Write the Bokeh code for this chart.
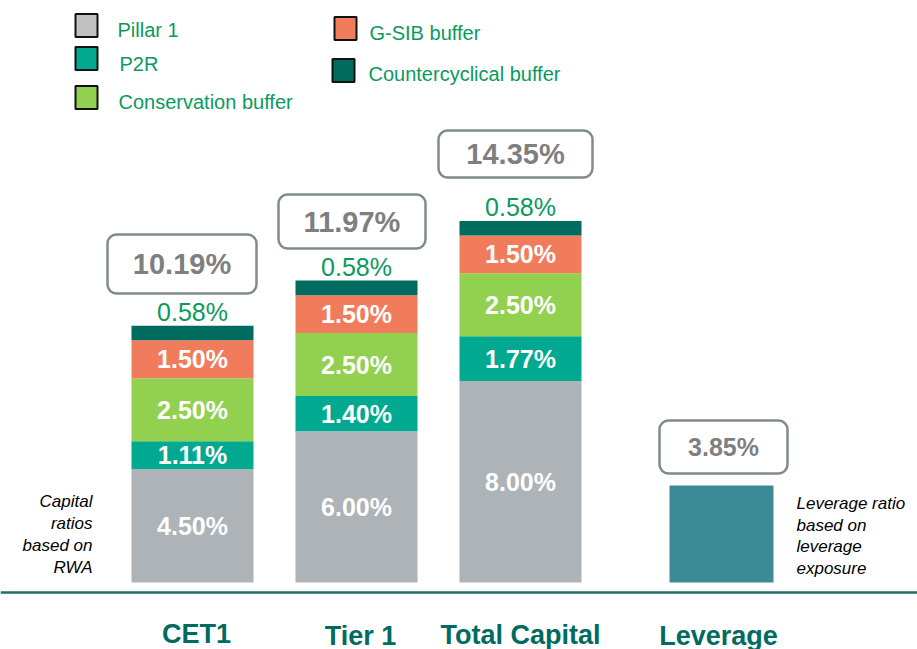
import numpy as np
from bokeh.plotting import figure
from bokeh.models import Range1d, Span, BoxAnnotation, ColumnDataSource
from bokeh.core.properties import value
from bokeh.embed import file_html
from bokeh.resources import INLINE

# ---------------- data ----------------
categories = ["CET1", "Tier 1", "Total Capital"]
pillar1 = [4.50, 6.00, 8.00]
p2r = [1.11, 1.40, 1.77]
conservation = [2.50, 2.50, 2.50]
gsib = [1.50, 1.50, 1.50]
ccyb = [0.58, 0.58, 0.58]
total_labels = ["10.19%", "11.97%", "14.35%"]
leverage_cat = "Leverage"
leverage_value = 3.85
leverage_label = "3.85%"
series_names = ["Pillar 1", "P2R", "Conservation buffer", "G-SIB buffer", "Countercyclical buffer"]

# ---------------- layout helpers (reference pixel coords) ----------------
PX = 25.2      # pixels per percentage point
BASE = 582     # pixel row of the 0% line
W, H = 917, 649


def yd(ref_y):
    return (BASE - ref_y) / PX


FONT = value("Liberation Sans")
GREEN_TXT = "#0A9A5E"
TEAL_TXT = "#006B5E"
colors = ["#ADB3B6", "#00A98F", "#92D050", "#F07C5C", "#006B5F"]
legend_colors = ["#C0C0C0", "#00A98F", "#92D050", "#F07C5C", "#006B5F"]
LEV_COLOR = "#3A8B95"

bar_x = [192, 356, 520]
bar_w = 122
lev_x = 721
lev_w = 104

p = figure(width=W, height=H, x_range=Range1d(0, W), y_range=Range1d(yd(H), yd(0)),
           output_backend="svg", toolbar_location=None, x_axis_location=None,
           y_axis_location=None, min_border=0, outline_line_color=None,
           background_fill_color="white", border_fill_color="white")
p.grid.visible = False

# ---------------- stacked bars ----------------
stack = np.array([pillar1, p2r, conservation, gsib, ccyb])
tops = np.cumsum(stack, axis=0)
bottoms = tops - stack
for i in range(len(stack)):
    src = ColumnDataSource(dict(x=bar_x, bottom=bottoms[i], top=tops[i],
                                mid=(bottoms[i] + tops[i]) / 2,
                                lab=["%.2f%%" % v for v in stack[i]]))
    p.vbar(x="x", width=bar_w, bottom="bottom", top="top", source=src,
           fill_color=colors[i], line_color=None)
    if i < 4:
        p.text(x="x", y="mid", text="lab", source=src, text_color="white",
               text_font=FONT, text_font_style="bold", text_font_size="25px",
               text_align="center", text_baseline="middle")
    else:
        src2 = ColumnDataSource(dict(x=bar_x, y=tops[i] + 14 / PX,
                                     lab=["%.2f%%" % v for v in stack[i]]))
        p.text(x="x", y="y", text="lab", source=src2, text_color=GREEN_TXT,
               text_font=FONT, text_font_size="25px",
               text_align="center", text_baseline="middle")

# leverage bar
p.vbar(x=[lev_x], width=lev_w, bottom=[0], top=[leverage_value],
       fill_color=LEV_COLOR, line_color=None)

# ---------------- total boxes ----------------
box_px = [(107, 256, 234, 293), (278, 425, 194, 248), (438, 592, 130, 177), (659, 787, 420, 473)]
box_labels = total_labels + [leverage_label]
box_sizes = ["29px", "29px", "29px", "25px"]
for (l, r, t, b) in box_px:
    p.add_layout(BoxAnnotation(left=l, right=r, top=yd(t), bottom=yd(b),
                               fill_color="white", fill_alpha=1.0,
                               line_color="#808A8F", line_alpha=1.0, line_width=2.5,
                               border_radius=9, level="underlay"))
bsrc = ColumnDataSource(dict(x=[(l + r) / 2 for (l, r, t, b) in box_px],
                             y=[yd((t + b) / 2) for (l, r, t, b) in box_px],
                             lab=box_labels, size=box_sizes))
p.text(x="x", y="y", text="lab", source=bsrc, text_color="#7F7F7F",
       text_font=FONT, text_font_style="bold", text_font_size="size",
       text_align="center", text_baseline="middle")

# ---------------- baseline ----------------
p.add_layout(Span(location=yd(592), dimension="width", line_color="#1F6F66", line_width=2.5))

# ---------------- category labels ----------------
cat_src = ColumnDataSource(dict(x=[196, 360, 520, 718], y=[yd(633), yd(635), yd(634), yd(635)],
                                lab=categories + [leverage_cat]))
p.text(x="x", y="y", text="lab", source=cat_src, text_color=TEAL_TXT,
       text_font=FONT, text_font_style="bold", text_font_size="27px",
       text_align="center", text_baseline="middle")

# ---------------- side notes ----------------
left_lines = ["Capital", "ratios", "based on", "RWA"]
right_lines = ["Leverage ratio", "based on", "leverage", "exposure"]
p.text(x=[92] * 4, y=[yd(v) for v in (501, 523, 545, 567)], text=left_lines,
       text_color="black", text_font=FONT, text_font_style="italic",
       text_font_size="17px", text_align="right", text_baseline="middle")
p.text(x=[796] * 4, y=[yd(v) for v in (503, 525, 546, 568)], text=right_lines,
       text_color="black", text_font=FONT, text_font_style="italic",
       text_font_size="17px", text_align="left", text_baseline="middle")

# ---------------- legend ----------------
leg_sq = [(86, 25), (86, 58), (86, 97), (345, 28), (343, 70)]
leg_tx = [(117, 29), (119, 63), (118, 101), (369, 32), (368, 73)]
p.rect(x=[a for a, b in leg_sq], y=[yd(b) for a, b in leg_sq], width=22, height=23,
       width_units="screen", height_units="screen", fill_color=legend_colors,
       line_color="#111111", line_width=2)
p.text(x=[a for a, b in leg_tx], y=[yd(b) for a, b in leg_tx], text=series_names,
       text_color=GREEN_TXT, text_font=FONT, text_font_size="20px",
       text_align="left", text_baseline="middle")

open("out.html", "w").write(file_html(p, INLINE))
